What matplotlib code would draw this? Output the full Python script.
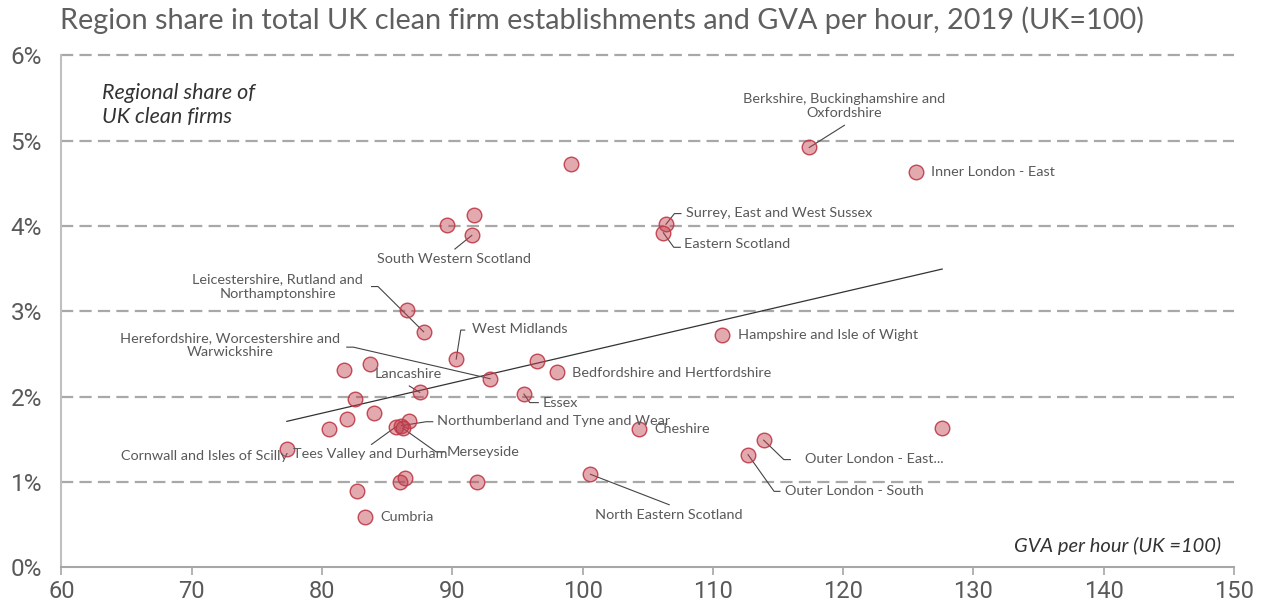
import numpy as np
import matplotlib
matplotlib.use("Agg")
import matplotlib.pyplot as plt

plt.rcParams["font.family"] = ["Lato", "DejaVu Sans"]

# data: GVA per hour (UK=100) vs regional share of UK clean firms (%)
names = [
    "Berkshire, Buckinghamshire and\nOxfordshire", "Inner London - East", "",
    "Surrey, East and West Sussex", "Eastern Scotland", "", "",
    "South Western Scotland", "", "Leicestershire, Rutland and\nNorthamptonshire",
    "West Midlands", "Herefordshire, Worcestershire and\nWarwickshire", "",
    "Bedfordshire and Hertfordshire", "Essex", "Hampshire and Isle of Wight",
    "", "", "Lancashire", "", "", "", "", "Cornwall and Isles of Scilly", "",
    "Tees Valley and Durham", "Northumberland and Tyne and Wear", "Merseyside",
    "Cheshire", "Outer London - East...", "Outer London - South",
    "North Eastern Scotland", "", "", "", "", "Cumbria", "",
]
gva = [117.4, 125.6, 99.1, 106.4, 106.2, 91.7, 89.6, 91.5, 86.5, 87.8,
       90.3, 92.9, 96.5, 98.0, 95.5, 110.7, 81.7, 83.65, 87.5, 82.55,
       84.0, 81.9, 80.5, 77.3, 86.65, 85.7, 86.1, 86.2, 104.3, 113.9,
       112.7, 100.6, 86.35, 86.0, 91.9, 82.65, 83.3, 127.6]
share = [4.92, 4.63, 4.73, 4.02, 3.92, 4.13, 4.01, 3.89, 3.02, 2.76,
         2.44, 2.21, 2.42, 2.29, 2.03, 2.72, 2.31, 2.38, 2.05, 1.97,
         1.81, 1.74, 1.62, 1.39, 1.72, 1.65, 1.66, 1.63, 1.62, 1.49,
         1.32, 1.09, 1.05, 1.00, 1.00, 0.89, 0.59, 1.63]

x_ticks = [60, 70, 80, 90, 100, 110, 120, 130, 140, 150]
y_ticks = [0, 1, 2, 3, 4, 5, 6]

# label layout: text position (data coords), alignment, leader elbow points
layout = {
    "Berkshire, Buckinghamshire and\nOxfordshire": ((120.1, 5.41), "center", [(120.1, 5.18)]),
    "Inner London - East": ((126.75, 4.63), "left", []),
    "Surrey, East and West Sussex": ((107.9, 4.155), "left", [(107.05, 4.145), (107.55, 4.145)]),
    "Eastern Scotland": ((107.8, 3.785), "left", [(107.0, 3.75), (107.5, 3.75)]),
    "South Western Scotland": ((90.1, 3.615), "center", [(90.2, 3.73)]),
    "Leicestershire, Rutland and\nNorthamptonshire": ((76.6, 3.29), "center", [(84.3, 3.29), (83.8, 3.29)]),
    "West Midlands": ((91.5, 2.79), "left", [(90.65, 2.78), (90.95, 2.78)]),
    "Herefordshire, Worcestershire and\nWarwickshire": ((72.95, 2.60), "center", [(82.4, 2.58), (81.9, 2.58)]),
    "Lancashire": ((86.6, 2.27), "center", [(86.7, 2.125)]),
    "Bedfordshire and Hertfordshire": ((99.2, 2.28), "left", []),
    "Essex": ((96.9, 1.92), "left", [(95.95, 1.93), (96.6, 1.93)]),
    "Hampshire and Isle of Wight": ((111.9, 2.72), "left", []),
    "Northumberland and Tyne and Wear": ((88.8, 1.71), "left", [(88.0, 1.706), (88.5, 1.706)]),
    "Tees Valley and Durham": ((83.7, 1.325), "center", [(83.8, 1.44)]),
    "Merseyside": ((89.55, 1.35), "left", [(88.75, 1.353), (89.4, 1.353)]),
    "Cornwall and Isles of Scilly": ((71.0, 1.30), "center", []),
    "Cheshire": ((105.5, 1.615), "left", []),
    "Outer London - East...": ((117.1, 1.27), "left", [(115.45, 1.262), (115.95, 1.262)]),
    "Outer London - South": ((115.5, 0.90), "left", [(114.7, 0.89), (115.15, 0.89)]),
    "North Eastern Scotland": ((106.6, 0.615), "center", [(106.65, 0.733)]),
    "Cumbria": ((84.45, 0.59), "left", []),
}

GREY_TXT = "#595959"
GRID = "#a8a8a8"
NARROW = ["Liberation Sans Narrow", "Roboto", "DejaVu Sans"]

fig = plt.figure(figsize=(12.62, 6.07), dpi=100)
ax = fig.add_axes([0.0487, 0.0654, 0.9291, 0.8435])

for y in y_ticks[1:]:
    ax.axhline(y, color=GRID, lw=1.6, dashes=(5.5, 2.8), clip_on=False, zorder=1)

# trend line (least squares over plotted points)
gx = np.array(gva)
sy = np.array(share)
k, b = np.polyfit(gx, sy, 1)
xs = np.array([gx.min(), gx.max()])
ax.plot(xs, k * xs + b, color="#333333", lw=0.9, zorder=2)

ax.scatter(gva, share, s=110, facecolor=(0.75, 0.25, 0.30, 0.45),
           edgecolor=(0.75, 0.22, 0.28, 0.9), linewidth=1.0, zorder=3)

for name, gxv, syv in zip(names, gva, share):
    if not name:
        continue
    (tx, ty), ha, elbow = layout[name]
    if elbow:
        pts = [(gxv, syv)] + elbow
        ax.plot([p[0] for p in pts], [p[1] for p in pts], color="#444444", lw=0.8, zorder=2)
    ax.text(tx, ty, name, ha=ha, va="center", fontsize=10.4, color=GREY_TXT,
            linespacing=1.2, zorder=4)

ax.set_xlim(60, 150)
ax.set_ylim(0, 6)
ax.set_xticks(x_ticks)
ax.set_xticklabels([str(v) for v in x_ticks], fontsize=17, color=GREY_TXT, family=NARROW)
ax.set_yticks(y_ticks)
ax.set_yticklabels([f"{v}%" for v in y_ticks], fontsize=17.5, color=GREY_TXT, family=NARROW)
ax.tick_params(axis="x", length=6, width=1.2, color="#a6a6a6", pad=3)
ax.tick_params(axis="y", length=0, pad=14)

for side in ["top", "right"]:
    ax.spines[side].set_visible(False)
ax.spines["left"].set_color("#bfbfbf")
ax.spines["left"].set_linewidth(1.5)
ax.spines["bottom"].set_color("#a6a6a6")
ax.spines["bottom"].set_linewidth(1.5)

ax.text(0.0345, 0.946, "Regional share of\nUK clean firms", transform=ax.transAxes,
        ha="left", va="top", fontsize=15.5, style="italic", color="#333333", linespacing=1.25)
ax.text(0.989, 0.042, "GVA per hour (UK =100)", transform=ax.transAxes,
        ha="right", va="center", fontsize=14.5, style="italic", color="#333333")

fig.text(0.0475, 0.967, "Region share in total UK clean firm establishments and GVA per hour, 2019 (UK=100)",
         ha="left", va="center", fontsize=20.8, color="#5f5f5f")

fig.savefig("out.png", dpi=100)
